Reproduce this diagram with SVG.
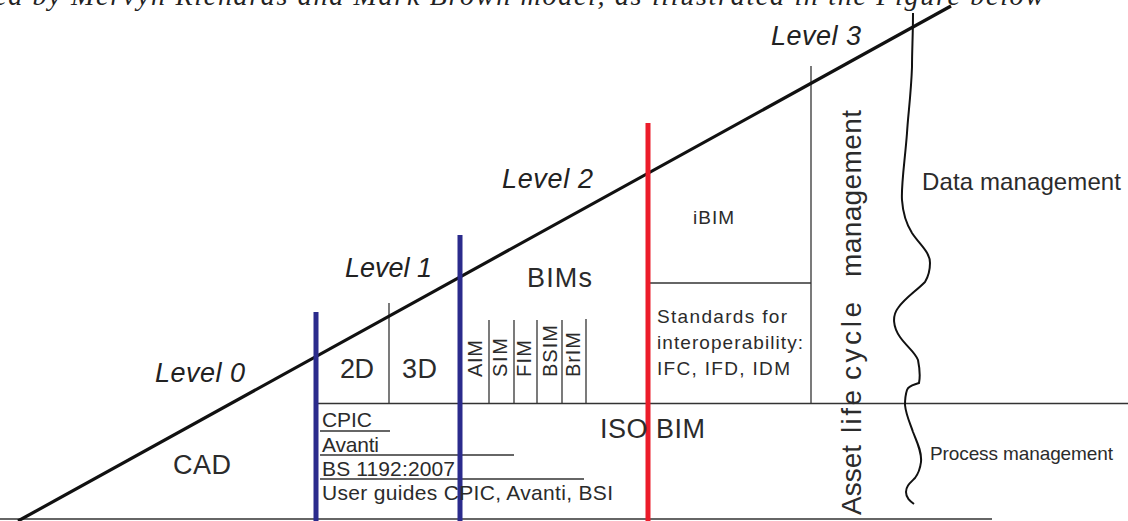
<svg xmlns="http://www.w3.org/2000/svg" width="1128" height="521" viewBox="0 0 1128 521">
<style>
.t{font-family:"Liberation Sans",Arial,sans-serif;fill:#2b2b2b}
.lv{font-family:"Liberation Sans",Arial,sans-serif;font-style:italic;font-size:27px;fill:#222}
.big{font-size:27px}
.thin{stroke:#333;stroke-width:1.3;fill:none}
.blue{stroke:#2b2b8c;stroke-width:5}
.red{stroke:#ec1c2a;stroke-width:5}
</style>
<rect width="1128" height="521" fill="#fff"/>
<text x="-6" y="5" font-family="Liberation Serif,serif" font-style="italic" font-size="28" fill="#222" textLength="1050" lengthAdjust="spacing">ed by Mervyn Richards and Mark Brown model, as illustrated in the Figure below</text>

<g id="connectors">
  <line class="thin" x1="0" y1="519" x2="992" y2="519"/>
  <line class="thin" x1="318" y1="403.5" x2="1128" y2="403.5"/>
  <line class="thin" x1="389" y1="303" x2="389" y2="403"/>
  <line class="thin" x1="489" y1="320" x2="489" y2="403"/>
  <line class="thin" x1="514" y1="320" x2="514" y2="403"/>
  <line class="thin" x1="537" y1="320" x2="537" y2="403"/>
  <line class="thin" x1="562" y1="320" x2="562" y2="403"/>
  <line class="thin" x1="586" y1="319" x2="586" y2="403"/>
  <line class="thin" x1="811" y1="66" x2="811" y2="403"/>
  <line class="thin" x1="648" y1="283" x2="811" y2="283"/>
  <line class="thin" x1="320" y1="431" x2="390" y2="431"/>
  <line class="thin" x1="320" y1="455" x2="514" y2="455"/>
  <line class="thin" x1="320" y1="479" x2="584" y2="479"/>
  <line x1="18" y1="521" x2="951" y2="6" stroke="#111" stroke-width="3.2"/>
  <path d="M913,13 C913,35 912,50 912,67 C911,95 908,115 907,133 C905,160 901,185 902,200 C903,215 907,225 912,233 C920,245 930,252 930,263 C930,272 928,277 925,282 C915,292 905,298 898,308 C892,316 893,327 900,337 C907,347 915,352 918,360 C920,370 920,378 919,383 C914,385 909,385 907,390 C905,396 905,400 905,405 C906,415 910,423 913,432 C917,442 922,452 921,462 C920,470 918,474 915,478 C910,483 906,486 906,492 C906,498 910,501 914,504" stroke="#111" stroke-width="2" fill="none"/>
  <line class="blue" x1="316" y1="312" x2="316" y2="521"/>
  <line class="blue" x1="460" y1="235" x2="460" y2="521"/>
  <line class="red" x1="648" y1="123" x2="648" y2="521"/>
</g>

<g id="level0"><text class="lv" x="155" y="382" textLength="90">Level 0</text></g>
<g id="level1"><text class="lv" x="345" y="277" textLength="87">Level 1</text></g>
<g id="level2"><text class="lv" x="502" y="188" textLength="91">Level 2</text></g>
<g id="level3"><text class="lv" x="771" y="45" textLength="90">Level 3</text></g>

<g id="cad"><text class="t big" x="173" y="474" textLength="58">CAD</text></g>
<g id="d2"><text class="t big" x="340" y="378" textLength="34">2D</text></g>
<g id="d3"><text class="t big" x="402" y="378" textLength="35">3D</text></g>
<g id="bims"><text class="t big" x="527" y="287" textLength="65">BIMs</text></g>
<g id="isobim"><text class="t big" x="600" y="438" textLength="105">ISO BIM</text></g>

<g id="subbims" class="t" font-size="20">
  <text transform="translate(482,377) rotate(-90)" textLength="37">AIM</text>
  <text transform="translate(507,377) rotate(-90)" textLength="39">SIM</text>
  <text transform="translate(531,377) rotate(-90)" textLength="37">FIM</text>
  <text transform="translate(557,377) rotate(-90)" textLength="52">BSIM</text>
  <text transform="translate(580,377) rotate(-90)" textLength="45">BrIM</text>
</g>

<g id="standards" class="t" font-size="21">
  <text x="322" y="427" textLength="50">CPIC</text>
  <text x="322" y="452" textLength="57">Avanti</text>
  <text x="322" y="476" textLength="133">BS 1192:2007</text>
  <text x="322" y="500" textLength="291">User guides CPIC, Avanti, BSI</text>
</g>

<g id="ibim"><text class="t" font-size="19" x="693" y="224" textLength="41">iBIM</text></g>
<g id="interop" class="t" font-size="19">
  <text x="657" y="323" textLength="130">Standards for</text>
  <text x="657" y="349" textLength="146">interoperability:</text>
  <text x="657" y="375" textLength="133">IFC, IFD, IDM</text>
</g>

<g id="lifecycle" class="t" font-size="28">
  <text transform="translate(861,515) rotate(-90)" textLength="70">Asset</text>
  <text transform="translate(861,433) rotate(-90)" textLength="43">life</text>
  <text transform="translate(861,380) rotate(-90)" textLength="78">cycle</text>
  <text transform="translate(861,277) rotate(-90)" textLength="167">management</text>
</g>

<g id="datamgmt"><text class="t" font-size="24" x="922" y="190" textLength="199">Data management</text></g>
<g id="processmgmt"><text class="t" font-size="19" x="930" y="460" textLength="183">Process management</text></g>
</svg>
